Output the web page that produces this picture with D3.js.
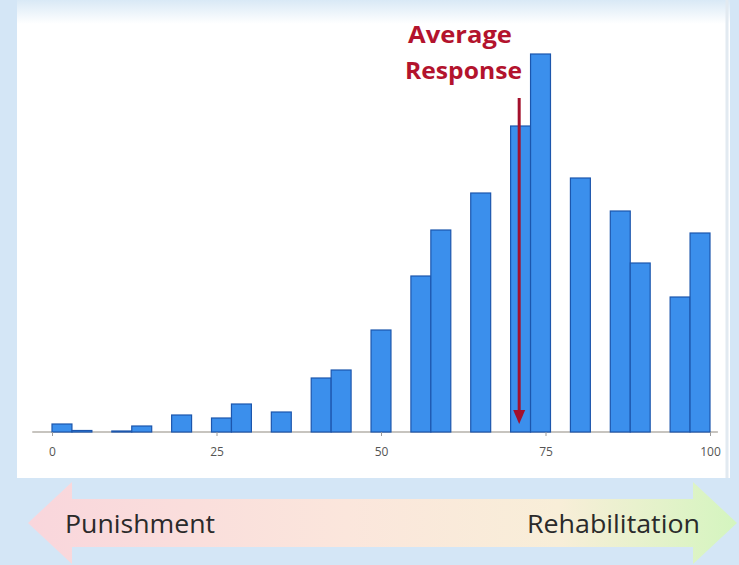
<!DOCTYPE html>
<html>
<head>
<meta charset="utf-8">
<script src="https://cdn.jsdelivr.net/npm/d3@7/dist/d3.min.js"></script>
<style>
  html, body { margin: 0; padding: 0; background: #d4e6f6; }
  svg { display: block; }
</style>
</head>
<body>
<div id="chart"></div>
<script>
// Histogram of responses on a 0–100 scale (33 equal-width bins)
const binCount = 33;
const binIndex = [0, 1, 3, 4, 6, 8, 9, 11, 13, 14, 16, 18, 19, 21, 23, 24, 26, 28, 29, 31, 32];
const binCounts = [4, 0.75, 0.5, 3, 8.5, 7, 14, 10, 27, 31, 51, 78, 101, 119.5, 153, 189, 127, 110.5, 84.5, 67.5, 99.5];
const tickValues = [0, 25, 50, 75, 100];
const averageResponse = 71;
const averageLabel = ["Average", "Response"];
const scaleEnds = ["Punishment", "Rehabilitation"];

const W = 739, H = 565;
const svg = d3.select("#chart").append("svg").attr("width", W).attr("height", H);

const defs = svg.append("defs");
const topFade = defs.append("linearGradient").attr("id", "topFade")
  .attr("x1", 0).attr("y1", 0).attr("x2", 0).attr("y2", 1);
topFade.append("stop").attr("offset", "0%").attr("stop-color", "#d9e9f6");
topFade.append("stop").attr("offset", "5%").attr("stop-color", "#ffffff");
topFade.append("stop").attr("offset", "100%").attr("stop-color", "#ffffff");

const spectrum = defs.append("linearGradient").attr("id", "spectrum")
  .attr("x1", 0).attr("y1", 0).attr("x2", 1).attr("y2", 0);
spectrum.append("stop").attr("offset", "0%").attr("stop-color", "#f9d6dc");
spectrum.append("stop").attr("offset", "45%").attr("stop-color", "#fbe6dc");
spectrum.append("stop").attr("offset", "75%").attr("stop-color", "#f8eed8");
spectrum.append("stop").attr("offset", "100%").attr("stop-color", "#d4f5bf");

// page background and white chart panel
svg.append("rect").attr("width", W).attr("height", H).attr("fill", "#d4e6f6");
svg.append("rect").attr("x", 17).attr("y", 0).attr("width", 713).attr("height", 478)
  .attr("fill", "url(#topFade)");
svg.append("line").attr("x1", 727).attr("x2", 727).attr("y1", 0).attr("y2", 478)
  .attr("stroke", "#e2eaf1").attr("stroke-width", 3);

// scales
const x = d3.scaleLinear().domain([0, 100]).range([52, 710]);
const y = d3.scaleLinear().domain([0, 190]).range([432, 52]);
const binW = 100 / binCount;

const bins = binIndex.map((b, i) => ({ x0: b * binW, x1: (b + 1) * binW, n: binCounts[i] }));

// axis baseline spans a little beyond the data range
svg.append("line")
  .attr("x1", x(-3)).attr("x2", x(101.2))
  .attr("y1", y(0)).attr("y2", y(0))
  .attr("stroke", "#b5b1aa").attr("stroke-width", 1.5);

svg.append("g").selectAll("rect").data(bins).join("rect")
  .attr("x", d => x(d.x0))
  .attr("y", d => y(d.n))
  .attr("width", d => x(d.x1) - x(d.x0))
  .attr("height", d => y(0) - y(d.n))
  .attr("fill", "#3b8fec")
  .attr("stroke", "#1c56ad")
  .attr("stroke-width", 1.2);

const axis = d3.axisBottom(x).tickValues(tickValues).tickSize(4).tickPadding(11);
const gAxis = svg.append("g").attr("transform", `translate(0,${y(0)})`).call(axis);
gAxis.select(".domain").remove();
gAxis.selectAll(".tick line").attr("stroke", "#9a9a9a");
gAxis.selectAll(".tick text")
  .attr("fill", "#555")
  .attr("font-family", "'Open Sans', sans-serif")
  .attr("font-size", 12);

// average response marker
const ax = x(averageResponse);
const arrowColor = "#a3102c";
svg.append("line")
  .attr("x1", ax).attr("x2", ax)
  .attr("y1", 98).attr("y2", y(0) - 18)
  .attr("stroke", arrowColor).attr("stroke-width", 3);
svg.append("path")
  .attr("d", `M${ax - 6},${y(0) - 22} L${ax + 6},${y(0) - 22} L${ax},${y(0) - 8} Z`)
  .attr("fill", arrowColor);

svg.append("g").selectAll("text").data(averageLabel).join("text")
  .attr("x", (d, i) => i === 0 ? 408 : 405)
  .attr("y", (d, i) => i === 0 ? 43 : 79)
  .attr("textLength", (d, i) => i === 0 ? 104 : 117)
  .attr("lengthAdjust", "spacingAndGlyphs")
  .attr("fill", "#b3132d")
  .attr("font-family", "'Open Sans', sans-serif")
  .attr("font-weight", "bold")
  .attr("font-size", 23)
  .text(d => d);

// double-headed spectrum arrow
const aL = 28, aR = 737, aMid = 523, headBack = 44, bodyHalf = 24, headHalf = 41;
const arrowPath = [
  [aL, aMid],
  [aL + headBack, aMid - headHalf],
  [aL + headBack, aMid - bodyHalf],
  [aR - headBack, aMid - bodyHalf],
  [aR - headBack, aMid - headHalf],
  [aR, aMid],
  [aR - headBack, aMid + headHalf],
  [aR - headBack, aMid + bodyHalf],
  [aL + headBack, aMid + bodyHalf],
  [aL + headBack, aMid + headHalf]
];
svg.append("path")
  .attr("d", d3.line()(arrowPath) + "Z")
  .attr("fill", "url(#spectrum)");

svg.append("g").selectAll("text").data(scaleEnds).join("text")
  .attr("x", (d, i) => i === 0 ? 65 : 527)
  .attr("y", 533)
  .attr("textLength", (d, i) => i === 0 ? 150 : 173)
  .attr("lengthAdjust", "spacingAndGlyphs")
  .attr("fill", "#2a2a2a")
  .attr("font-family", "'Open Sans', sans-serif")
  .attr("font-size", 25)
  .text(d => d);
</script>
</body>
</html>
